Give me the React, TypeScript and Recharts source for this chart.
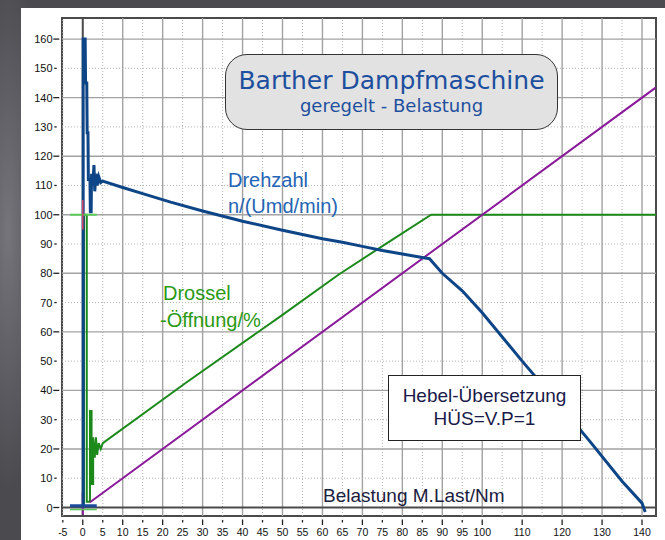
import { LineChart, Line, XAxis, YAxis, ReferenceLine, ReferenceArea } from 'recharts';

// Axis setup
const xDomain = [-5.2, 143.5];
const yDomain = [-2.9, 167.2];
const xTicks = [-5, 0, 5, 10, 15, 20, 25, 30, 35, 40, 45, 50, 55, 60, 65, 70, 75, 80, 85, 90, 95, 100, 110, 120, 130, 140];
const yTicks = [0, 10, 20, 30, 40, 50, 60, 70, 80, 90, 100, 110, 120, 130, 140, 150, 160];
const xGridSolid = [10, 20, 30, 40, 50, 60, 70, 80, 90, 100, 110, 120, 130, 140];
const xGridDotted = [-5, 5, 15, 25, 35, 45, 55, 65, 75, 85, 95, 105, 115, 125, 135];
const yGridSolid = [20, 40, 60, 80, 100, 120, 140, 160];
const yGridDotted = [10, 30, 50, 70, 90, 110, 130, 150];

// Drehzahl n/(Umd/min) over Belastung
const drehzahlLoad = [0.1, 0.1, 0.6, 0.7, 1.0, 1.1, 1.3, 1.4, 1.8, 1.9, 2.1, 2.2, 2.5, 2.8, 3.0, 3.3, 3.6, 4.0, 4.5, 5, 10, 15, 22, 30, 40, 50, 60, 65, 70, 75, 80, 85, 86.8, 90, 95, 100, 110, 120, 127, 135, 140, 140.8];
const drehzahlValue = [0, 160, 160, 145, 145, 128, 128, 112, 112, 101, 101, 114, 110, 117, 108, 114, 110, 113, 111, 111.5, 109.3, 107.2, 104.3, 101.3, 97.8, 94.7, 91.8, 90.6, 89.2, 87.8, 86.6, 85.4, 85, 80, 74, 66.5, 50, 34, 22.5, 9, 1.5, -1.5];

// Drossel-Öffnung/%
const drosselLoad = [0.3, 0.3, 1.0, 1.0, 1.8, 1.8, 2.2, 2.2, 2.6, 2.6, 3.0, 3.3, 3.6, 4.0, 4.5, 5, 26, 50, 64, 75, 87.2, 143.5];
const drosselValue = [0, 100, 100, 2, 2, 33, 33, 8, 8, 24, 17, 24, 18, 22, 20, 22, 42.8, 65.8, 79.5, 89.3, 100, 100];

// Hebel-Übersetzung HÜS=V.P=1
const hebelLoad = [0, 0, 0.5, 1.8, 143.5];
const hebelValue = [-2.5, 5, null, 1.8, 143.5];

// cursor crosses at the start
const crossLoad = [-3.2, 3.5];
const crossTick = [95, 105];

const drehzahl = drehzahlLoad.map((x, i) => ({ x, y: drehzahlValue[i] }));
const drossel = drosselLoad.map((x, i) => ({ x, y: drosselValue[i] }));
const hebel = hebelLoad.map((x, i) => ({ x, y: hebelValue[i] }));

const tickFont = '"Liberation Sans", Arial, sans-serif';

const XTick = ({ x, y, payload }: any) => {
    const major = payload.value % 10 === 0;
    return (
        <g>
            <line x1={x} x2={x} y1={y + (major ? 3.5 : 4)} y2={y + (major ? 9 : 6.5)} stroke="#222" strokeWidth={1.3} />
            <text x={x} y={y + 20} textAnchor="middle" fontSize={10.5} fontFamily={tickFont} fill="#111">{payload.value}</text>
        </g>
    );
};

const YTick = ({ x, y, payload }: any) => {
    const major = payload.value % 20 === 0;
    return (
        <g>
            <line x1={x - (major ? 8.7 : 7.7)} x2={x - (major ? 2.7 : 5.3)} y1={y} y2={y} stroke="#222" strokeWidth={1.3} />
            <text x={x - 9.5} y={y + 4} textAnchor="end" fontSize={11} fontFamily={tickFont} fill="#111">{payload.value}</text>
        </g>
    );
};

export default function App() {
    return (
        <div style={{
            position: 'relative', width: 665, height: 540, overflow: 'hidden',
            background: 'radial-gradient(ellipse 40px 260px at 8px 230px, #75757b, #4a4a4f 100%)',
        }}>
            <style>{'body{margin:0}'}</style>
            <div style={{ position: 'absolute', left: 21, top: 8, right: 0, bottom: 0, background: '#fff' }} />
            <div style={{ position: 'absolute', left: 0, top: 0 }}>
                <LineChart width={665} height={540} margin={{ top: 18, right: 9, bottom: 0, left: 0 }}>
                    <XAxis type="number" dataKey="x" domain={xDomain} ticks={xTicks} interval={0} allowDataOverflow
                        height={24} axisLine={false} tickLine={false} tickSize={0} tickMargin={0} tick={<XTick />} />
                    <YAxis type="number" dataKey="y" domain={yDomain} ticks={yTicks} interval={0} allowDataOverflow
                        width={62} axisLine={false} tickLine={false} tickSize={0} tickMargin={0} tick={<YTick />} />

                    {/* grid */}
                    {xGridDotted.map(v => <ReferenceLine key={'xd' + v} x={v} stroke="#b4b4b4" strokeDasharray="1 2" />)}
                    {yGridDotted.map(v => <ReferenceLine key={'yd' + v} y={v} stroke="#b4b4b4" strokeDasharray="1 2" />)}
                    {xGridSolid.map(v => <ReferenceLine key={'xs' + v} x={v} stroke="#a2a2a2" strokeWidth={1.4} />)}
                    {yGridSolid.map(v => <ReferenceLine key={'ys' + v} y={v} stroke="#a2a2a2" strokeWidth={1.4} />)}
                    <ReferenceLine x={0} stroke="#4a4a4a" strokeWidth={2} />
                    <ReferenceLine y={0} stroke="#4a4a4a" strokeWidth={2} />

                    <Line data={drossel} dataKey="y" stroke="#1b8a1b" strokeWidth={2} dot={false} isAnimationActive={false} />
                    <Line data={hebel} dataKey="y" stroke="#8a1a9a" strokeWidth={2} dot={false} isAnimationActive={false} connectNulls={false} />
                    <Line data={drehzahl} dataKey="y" stroke="#0d4587" strokeWidth={3} dot={false} isAnimationActive={false} />

                    {/* cursor crosses */}
                    <ReferenceLine segment={[{ x: crossLoad[0], y: -0.7 }, { x: crossLoad[1], y: -0.7 }]} stroke="#5ac85a" strokeWidth={1.5} />
                    <ReferenceLine segment={[{ x: crossLoad[0], y: 0.6 }, { x: crossLoad[1], y: 0.6 }]} stroke="#1a4a9a" strokeWidth={3} />
                    <ReferenceLine segment={[{ x: crossLoad[0], y: 100 }, { x: crossLoad[1], y: 100 }]} stroke="#5ac85a" strokeWidth={2} />
                    <ReferenceLine segment={[{ x: 0, y: crossTick[0] }, { x: 0, y: crossTick[1] }]} stroke="#d04a6a" strokeWidth={1.5} />

                    <ReferenceArea x1={xDomain[0]} x2={xDomain[1]} y1={yDomain[0]} y2={yDomain[1]} fill="none" fillOpacity={0} stroke="#4a4a4a" strokeWidth={2} />
                </LineChart>
            </div>

            {/* title box */}
            <div style={{
                position: 'absolute', left: 225, top: 54, width: 331, height: 74, border: '1.5px solid #333',
                borderRadius: 22, background: '#e2e2e2', textAlign: 'center', fontFamily: '"DejaVu Sans", sans-serif', color: '#1d4f9e',
            }}>
                <div style={{ fontSize: 25, lineHeight: '28px', marginTop: 12 }}>Barther Dampfmaschine</div>
                <div style={{ fontSize: 18, lineHeight: '22px' }}>geregelt - Belastung</div>
            </div>

            {/* series labels */}
            <div style={{ position: 'absolute', left: 228, top: 167, fontFamily: '"Liberation Sans", Arial, sans-serif', fontSize: 20, lineHeight: '26px', color: '#2565b5' }}>
                Drehzahl<br />n/(Umd/min)
            </div>
            <div style={{ position: 'absolute', left: 160, top: 280, fontFamily: '"Liberation Sans", Arial, sans-serif', fontSize: 20, lineHeight: '27px', color: '#2a9a14' }}>
                <span style={{ paddingLeft: 3 }}>Drossel</span><br />-Öffnung/%
            </div>

            {/* lever box */}
            <div style={{
                position: 'absolute', left: 388, top: 375, width: 191, height: 64, border: '1.5px solid #222', background: '#fff',
                textAlign: 'center', fontFamily: '"Liberation Sans", Arial, sans-serif', fontSize: 19, lineHeight: '23px', color: '#1a1a4a',
            }}>
                <div style={{ marginTop: 8 }}>Hebel-Übersetzung</div>
                <div>HÜS=V.P=1</div>
            </div>

            <div style={{ position: 'absolute', left: 323, top: 485, fontFamily: '"Liberation Sans", Arial, sans-serif', fontSize: 19, color: '#1a2040' }}>
                Belastung M.Last/Nm
            </div>
        </div>
    );
}
